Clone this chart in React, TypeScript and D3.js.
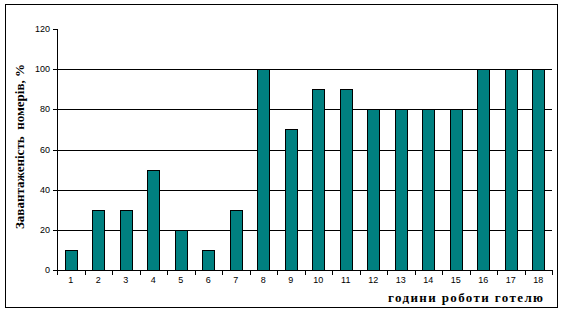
import React from "react";
import * as d3 from "d3";

const categories = ["1","2","3","4","5","6","7","8","9","10","11","12","13","14","15","16","17","18"];
const values = [10,30,30,50,20,10,30,100,70,90,90,80,80,80,80,100,100,100];
const yTicks = [0,20,40,60,80,100,120];
const gridValues = [20,40,60,80,100];
const yTitle = "Завантаженість  номерів, %";
const xTitle = "години роботи готелю";

export default function App() {
  const W = 561, H = 311;
  const left = 57, right = 552, top = 29, bottom = 270;
  const x = d3.scaleBand<string>().domain(categories).range([left, right]).paddingInner(0).paddingOuter(0);
  const y = d3.scaleLinear().domain([0, 120]).range([bottom, top]);
  const bw = 12;
  const font = "'Liberation Sans', Arial, sans-serif";
  const serif = "'Liberation Serif', 'Times New Roman', serif";
  return (
    <svg width={W} height={H} style={{ position: "absolute", left: 0, top: 0 }} shapeRendering="crispEdges">
      <rect x={0} y={0} width={W} height={H} fill="#fff" />
      <rect x={5.5} y={4.5} width={552} height={303} fill="none" stroke="#000" strokeWidth={1} />
      {gridValues.map(v => (
        <line key={v} x1={left} x2={right} y1={Math.round(y(v)) + 0.5} y2={Math.round(y(v)) + 0.5} stroke="#000" />
      ))}
      {values.map((v, i) => {
        const cx = x(categories[i])! + x.bandwidth() / 2;
        const x0 = Math.round(cx - bw / 2) + 0.5;
        const y0 = Math.round(y(v)) + 0.5;
        return <rect key={i} x={x0} y={y0} width={bw} height={Math.round(bottom) - Math.round(y(v))} fill="#008080" stroke="#000" />;
      })}
      <line x1={left + 0.5} x2={left + 0.5} y1={top} y2={bottom + 0.5} stroke="#000" />
      <line x1={left} x2={right} y1={bottom + 0.5} y2={bottom + 0.5} stroke="#000" />
      {yTicks.map(v => (
        <g key={v}>
          <line x1={left - 4} x2={left} y1={Math.round(y(v)) + 0.5} y2={Math.round(y(v)) + 0.5} stroke="#000" />
          <text x={left - 7} y={y(v) + 3} textAnchor="end" fontFamily={font} fontSize={9}>{v}</text>
        </g>
      ))}
      {categories.map((c, i) => (
        <g key={c}>
          <line x1={Math.round(x(c)!) + 0.5} x2={Math.round(x(c)!) + 0.5} y1={bottom} y2={bottom + 5} stroke="#000" />
          <text x={x(c)! + x.bandwidth() / 2} y={bottom + 13} textAnchor="middle" fontFamily={font} fontSize={9}>{c}</text>
        </g>
      ))}
      <line x1={right + 0.5} x2={right + 0.5} y1={bottom} y2={bottom + 5} stroke="#000" />
      <text transform={`translate(24,229) rotate(-90)`} textAnchor="start" fontFamily={serif} fontWeight="bold" fontSize={13} textLength={165} lengthAdjust="spacing" style={{ whiteSpace: "pre" }}>{yTitle}</text>
      <text x={388} y={302} textAnchor="start" fontFamily={serif} fontWeight="bold" fontSize={13} textLength={155} lengthAdjust="spacing">{xTitle}</text>
    </svg>
  );
}
